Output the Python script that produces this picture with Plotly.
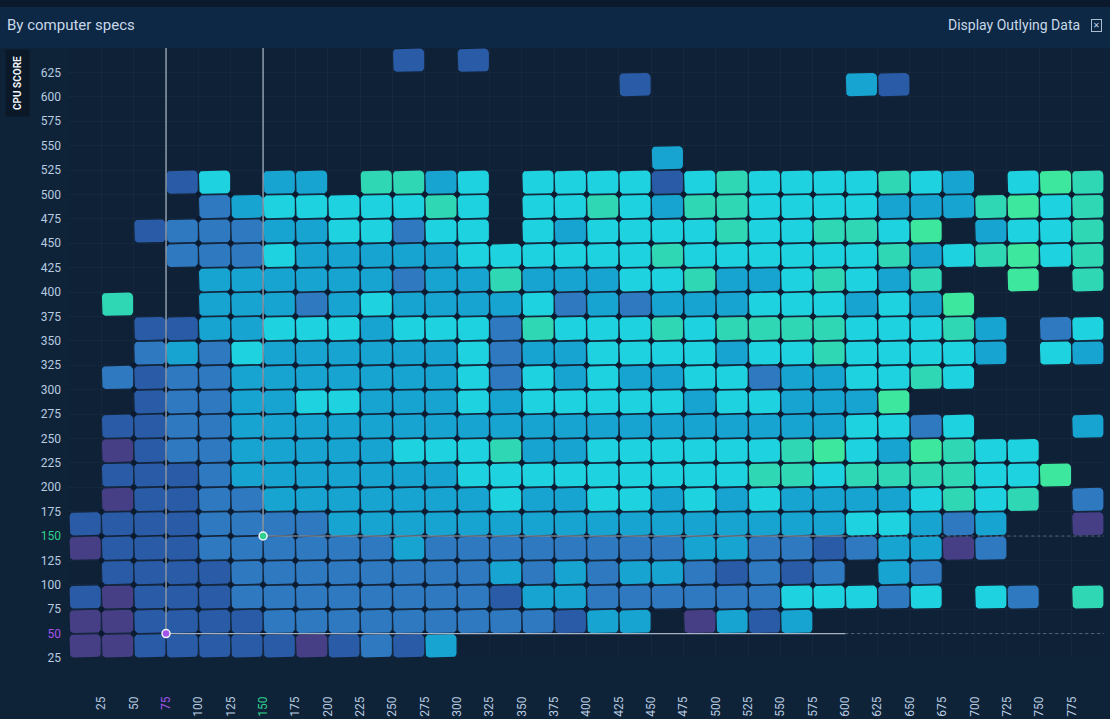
import math
import plotly.graph_objects as go

# ---------------- data ----------------
x_bin_left = list(range(0, 800, 25))          # 32 bins on the x axis
y_bin_bottom = list(range(25, 650, 25))       # 25 bins on the CPU score axis
x_tick_vals = list(range(25, 800, 25))
y_tick_vals = list(range(25, 650, 25))

level_codes = "PDMBCTG"
level_colors = ["#463f86", "#2a5ba7", "#2f79c0", "#17a4d1", "#1fd2e0", "#30d7b5", "#3de89e"]

# one string per CPU-score bin, from the top bin (625-650) to the bottom (25-50); '.' = no data
cell_rows = [
    "..........D.D...................",
    ".................D......BD......",
    "................................",
    "................................",
    "..................B.............",
    "...DC.BB.TTBC.CCCCDCTCCCCTCB.CGT",
    "....MBCCCCCTC.CCTCBTTCCCCBBBTGCT",
    "..DMMMBBCCMCC.CBCCCCTCCTTCG.BCCT",
    "...MMMCBBBBBCCCCCCTCCCCCCTBCTGCT",
    "....BBBBBBMBBTBBBCCTBBCTCBT..G.T",
    ".T..BBBMBCBBBBCMBMBBBCCCBCBG....",
    "..DDBBCCCBCCCMTCCCTCTTTTCCCTB.MC",
    "..MBMCBBBBBBCMBBCCCCBCCTCCCCB.CB",
    ".MDMMBBBBBBBCMCBCBBCCMBBCCTC....",
    "..DMMBBCCBBBCBCCCCCBCCBBBG......",
    ".DDMMBBBBBBBBBBBBBBBBBBBCCMC...B",
    ".PDMMBBBBBCCCTBBCCCCCCTGCBGTCC..",
    ".DDDMBBBBBBBCCCCCCCCCTTCTTTTCCG.",
    ".PDDMMBBBBBBBCBBCCBCBCBBBBCTCT.M",
    "DDDDMMMMBBBBBBBBBBBBBBBBCCBMB..P",
    "PDDDMMMMMMBMMMMMMMMBBMMDMBBPM...",
    ".DDDDMMMMMMMMBMBMBBMDMDM.BM.....",
    "DPDDDMMMMMMMMDBBMMMMMMCCCMC.CM.T",
    "PPDDDDMMMMMMMMMDBB.PBDB.........",
    "PPDDDDDPDMDB....................",
]

selected_x = [75, 150]
selected_y = [50, 150]
selected_colors = ["#a453ea", "#2fcf8f"]

# ---------------- layout geometry ----------------
W, H = 1110, 719
L, R, T, B = 69, 6, 48, 61
PW, PH = W - L - R, H - T - B
X_RANGE = [0, 800]
Y_RANGE = [25, 650]
px_per_x = PW / (X_RANGE[1] - X_RANGE[0])
px_per_y = PH / (Y_RANGE[1] - Y_RANGE[0])


def paper_x(px):
    return (px - L) / PW


def paper_y(py):
    return (H - B - py) / PH


GAP_PX = 0.6
RAD_PX = 4.3


def rounded_rect(x0, x1, y0, y1):
    gx, gy = GAP_PX / px_per_x, GAP_PX / px_per_y
    rx, ry = RAD_PX / px_per_x, RAD_PX / px_per_y
    xa, xb, ya, yb = x0 + gx, x1 - gx, y0 + gy, y1 - gy
    xs, ys = [], []
    for cx, cy, a0 in [(xb - rx, yb - ry, 0), (xa + rx, yb - ry, 90),
                       (xa + rx, ya + ry, 180), (xb - rx, ya + ry, 270)]:
        for k in range(7):
            a = math.radians(a0 + 90 * k / 6)
            xs.append(cx + rx * math.cos(a))
            ys.append(cy + ry * math.sin(a))
    xs.append(xs[0]); ys.append(ys[0])
    return xs, ys


n_rows = len(cell_rows)
n_cols = len(x_bin_left)


def filled(ci, yi):
    """yi indexes y_bin_bottom (0 = bottom bin)."""
    if ci < 0 or ci >= n_cols or yi < 0 or yi >= n_rows:
        return False
    return cell_rows[n_rows - 1 - yi][ci] != "."


fig = go.Figure()

for li, code in enumerate(level_codes):
    xs, ys = [], []
    for ri, row in enumerate(cell_rows):
        y0 = y_bin_bottom[n_rows - 1 - ri]
        for ci, ch in enumerate(row):
            if ch != code:
                continue
            x0 = x_bin_left[ci]
            rx_, ry_ = rounded_rect(x0, x0 + 25, y0, y0 + 25)
            xs += rx_ + [None]
            ys += ry_ + [None]
    fig.add_trace(go.Scatter(
        x=xs, y=ys, mode="lines", fill="toself", fillcolor=level_colors[li],
        line=dict(width=0, color=level_colors[li]), hoverinfo="skip", showlegend=False))

# junction dots where cells meet
dot_x, dot_y = [], []
for ci in range(1, n_cols):
    for yi in range(1, n_rows):
        cnt = sum(filled(c, y) for c in (ci - 1, ci) for y in (yi - 1, yi))
        if cnt >= 3:
            dot_x.append(x_bin_left[ci])
            dot_y.append(y_bin_bottom[yi])
fig.add_trace(go.Scatter(x=dot_x, y=dot_y, mode="markers",
                         marker=dict(size=5.5, color="#0b1b31", line=dict(width=0)),
                         hoverinfo="skip", showlegend=False))

# crosshair guides
for sx, sy, col in zip(selected_x, selected_y, selected_colors):
    fig.add_trace(go.Scatter(x=[sx, sx], y=[Y_RANGE[1], sy], mode="lines",
                             line=dict(color="rgba(225,236,250,0.9)", width=1),
                             hoverinfo="skip", showlegend=False))
    fig.add_trace(go.Scatter(x=[sx, 600], y=[sy, sy], mode="lines",
                             line=dict(color="rgba(215,225,238,0.75)", width=1.2),
                             hoverinfo="skip", showlegend=False))
    fig.add_trace(go.Scatter(x=[600, X_RANGE[1]], y=[sy, sy], mode="lines",
                             line=dict(color="rgba(215,225,238,0.35)", width=1, dash="dot"),
                             hoverinfo="skip", showlegend=False))
    fig.add_trace(go.Scatter(x=[sx], y=[sy], mode="markers",
                             marker=dict(size=8, color=col, line=dict(color="#f2f6fb", width=1.5)),
                             hoverinfo="skip", showlegend=False))

TICK_COLOR = "#b8cbe0"


def tick_text(v, sel_vals):
    for sv, col in zip(sel_vals, selected_colors):
        if v == sv:
            return f'<span style="color:{col}">{v}</span>'
    return str(v)


fig.update_xaxes(
    range=X_RANGE, tickmode="array", tickvals=x_tick_vals,
    ticktext=[tick_text(v, selected_x) for v in x_tick_vals],
    tickangle=-90, tickfont=dict(family="Roboto", size=12, color=TICK_COLOR),
    showgrid=True, gridcolor="rgba(120,160,200,0.05)", zeroline=False, showline=False,
    ticks="", ticklabelstandoff=35, automargin=False, fixedrange=True)
fig.update_yaxes(
    range=Y_RANGE, tickmode="array", tickvals=y_tick_vals,
    ticktext=[tick_text(v, selected_y) for v in y_tick_vals],
    tickfont=dict(family="Roboto", size=12, color=TICK_COLOR),
    showgrid=True, gridcolor="rgba(120,160,200,0.05)", zeroline=False, showline=False,
    ticks="", ticklabelstandoff=7, automargin=False, fixedrange=True)

shapes = [
    dict(type="rect", xref="paper", yref="paper", x0=paper_x(0), x1=paper_x(W),
         y0=paper_y(48), y1=paper_y(0), fillcolor="#0c2844", line_width=0, layer="below"),
    dict(type="rect", xref="paper", yref="paper", x0=paper_x(0), x1=paper_x(W),
         y0=paper_y(7), y1=paper_y(0), fillcolor="#0a1a2c", line_width=0, layer="below"),
]

annotations = [
    dict(text="By computer specs", xref="paper", yref="paper", x=paper_x(5), y=paper_y(25),
         xanchor="left", yanchor="middle", showarrow=False,
         font=dict(family="Roboto", size=15, color="#c8d7e9")),
    dict(text="Display Outlying Data", xref="paper", yref="paper", x=paper_x(1082), y=paper_y(25),
         xanchor="right", yanchor="middle", showarrow=False,
         font=dict(family="Roboto", size=14, color="#c8d7e9")),
    dict(text="✕", xref="paper", yref="paper", x=paper_x(1096.5), y=paper_y(25),
         xanchor="center", yanchor="middle", showarrow=False,
         font=dict(family="DejaVu Sans", size=8, color="#c8d7e9"),
         bordercolor="#aebdd0", borderwidth=1, borderpad=1),
    dict(text="<b>CPU SCORE</b>", xref="paper", yref="paper", x=paper_x(18), y=paper_y(83),
         xanchor="center", yanchor="middle", showarrow=False, textangle=-90,
         font=dict(family="Roboto", size=10, color="#eef4fa"),
         bgcolor="#0a1827", borderpad=6),
]

fig.update_layout(
    width=W, height=H, margin=dict(l=L, r=R, t=T, b=B, autoexpand=False),
    paper_bgcolor="#0e2338", plot_bgcolor="#0f2136",
    shapes=shapes, annotations=annotations, showlegend=False,
    hovermode=False,
)

fig.write_html("out.html")
